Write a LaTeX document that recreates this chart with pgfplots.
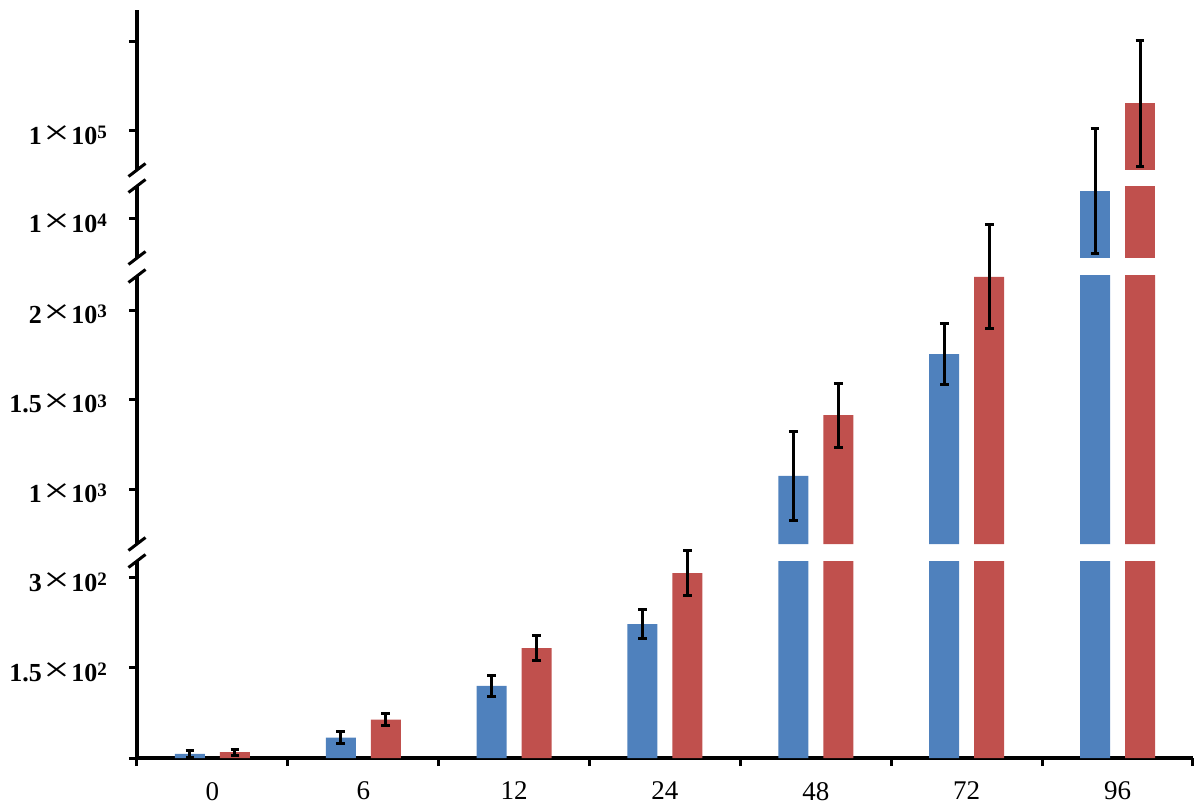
\documentclass[border=0pt]{standalone}
\usepackage{fontspec}
\setmainfont{Liberation Serif}
\usepackage{graphicx}
\usepackage{pgfplots}
\pgfplotsset{compat=1.18}
\usepackage{pgfplotstable}
\definecolor{cb}{HTML}{4F81BD}
\definecolor{cr}{HTML}{C0504D}
\newcommand{\lab}[2]{\textbf{#1}\kern0.8pt\scalebox{1.8}[1.35]{×}\kern0.8pt\textbf{10}\raisebox{2.7pt}{\fontsize{9.5}{9.5}\selectfont\bfseries #2}}

% x: category index (0,6,12,24,48,72,96 h); b/r: blue/red means; be/re: errors
\pgfplotstableread{
x b be r re
0 7 6 10 5
1 34 10 64 10
2 120 17 183 21
3 223 24 308 37
4 1073 251 1413 179
5 1754 170 2185 290
6 11550 3450 115500 35000
}\data

\tikzset{sl/.style={line width=1.5pt}}
\pgfplotsset{
  base/.style={
    scale only axis, width=528pt, xmin=-0.5, xmax=6.5,
    ybar, bar width=15pt, anchor=south west,
    tick align=outside, major tick length=4pt, minor tick length=4pt,
    tick style={black, line width=1.5pt},
    axis line style={-, black, line width=1.6pt},
    scaled y ticks=false,
    yticklabel style={font=\fontsize{13}{15}\selectfont, xshift=-7.5pt, yshift=-2pt},
    xticklabel style={font=\fontsize{13.5}{16}\selectfont, yshift=-4.5pt},
  },
  barseg/.style={base, axis y line*=left, axis x line=none, xtick=\empty},
  ovl/.style={base, clip=false, axis lines=none, xtick=\empty, ytick=\empty},
  eb/.style={draw=none, fill=none,
    error bars/y dir=both, error bars/y explicit,
    error bars/error bar style={draw=black, line width=1.5pt},
    error bars/error mark options={draw=black, rotate=90, mark size=2.2pt, line width=1.5pt}},
}

\begin{document}
\begin{tikzpicture}
\useasboundingbox (0,0) rectangle (600pt,402.5pt);

% ---------- segment 1 : 0 .. 328 ----------
\begin{axis}[base, at={(68.5pt,23.5pt)}, height=98.5pt, ymin=0, ymax=328.3,
  axis x line*=bottom, axis y line*=left,
  xtick={0,...,6}, xticklabels={0,6,12,24,48,72,96},
  minor xtick={-0.5,0.5,...,6.5}, major x tick style={draw=none},
  ytick={0,150,300}, yticklabels={,\lab{1.5}{2},\lab{3}{2}}]
\addplot[fill=cb, draw=none, bar shift=-11.25pt, restrict y to domain*=0:400] table[x=x,y=b]{\data};
\addplot[fill=cr, draw=none, bar shift=11.25pt, restrict y to domain*=0:400] table[x=x,y=r]{\data};
\end{axis}
\begin{axis}[ovl, at={(68.5pt,23.5pt)}, height=98.5pt, ymin=0, ymax=328.3]
\addplot[eb, bar shift=-11.25pt, restrict y to domain=0:328.3] table[x=x,y=b,y error=be]{\data};
\addplot[eb, bar shift=11.25pt, restrict y to domain=0:328.3] table[x=x,y=r,y error=re]{\data};
\draw[sl] (rel axis cs:0,1) ++(-4.25pt,-3.25pt) -- ++(8.5pt,6.5pt);
\end{axis}

% ---------- segment 2 : 693 .. 2190 ----------
\begin{axis}[barseg, at={(68.5pt,130.5pt)}, height=134pt, ymin=693, ymax=2190,
  ytick={1000,1500,2000}, yticklabels={\lab{1}{3},\lab{1.5}{3},\lab{2}{3}}]
\addplot[fill=cb, draw=none, bar shift=-11.25pt, y filter/.expression={y<693 ? nan : min(y,2500)}] table[x=x,y=b]{\data};
\addplot[fill=cr, draw=none, bar shift=11.25pt, y filter/.expression={y<693 ? nan : min(y,2500)}] table[x=x,y=r]{\data};
\end{axis}
\begin{axis}[ovl, at={(68.5pt,130.5pt)}, height=134pt, ymin=693, ymax=2190]
\addplot[eb, bar shift=-11.25pt, restrict y to domain=693:2190] table[x=x,y=b,y error=be]{\data};
\addplot[eb, bar shift=11.25pt, restrict y to domain=693:2190] table[x=x,y=r,y error=re]{\data};
\draw[sl] (rel axis cs:0,0) ++(-4.25pt,-3.25pt) -- ++(8.5pt,6.5pt);
\draw[sl] (rel axis cs:0,1) ++(-4.25pt,-3.25pt) -- ++(8.5pt,6.5pt);
\end{axis}

% ---------- segment 3 : 7833 .. 11833 ----------
\begin{axis}[barseg, at={(68.5pt,273.5pt)}, height=36pt, ymin=7833, ymax=11833,
  ytick={10000}, yticklabels={\lab{1}{4}}]
\addplot[fill=cb, draw=none, bar shift=-11.25pt, y filter/.expression={y<7833 ? nan : min(y,13000)}] table[x=x,y=b]{\data};
\addplot[fill=cr, draw=none, bar shift=11.25pt, y filter/.expression={y<7833 ? nan : min(y,13000)}] table[x=x,y=r]{\data};
\end{axis}
\begin{axis}[ovl, at={(68.5pt,273.5pt)}, height=36pt, ymin=7833, ymax=11833]
\addplot[eb, bar shift=-11.25pt, restrict y to domain=7833:11833] table[x=x,y=b,y error=be]{\data};
\draw[sl] (rel axis cs:0,0) ++(-4.25pt,-3.25pt) -- ++(8.5pt,6.5pt);
\draw[sl] (rel axis cs:0,1) ++(-4.25pt,-3.25pt) -- ++(8.5pt,6.5pt);
\end{axis}

% ---------- segment 4 : 78333 .. 167222 ----------
\begin{axis}[barseg, at={(68.5pt,317.5pt)}, height=80pt, ymin=78333, ymax=167222,
  ytick={100000,150000}, yticklabels={\lab{1}{5},}]
\addplot[fill=cr, draw=none, bar shift=11.25pt, y filter/.expression={y<78333 ? nan : min(y,170000)}] table[x=x,y=r]{\data};
\end{axis}
\begin{axis}[ovl, at={(68.5pt,317.5pt)}, height=80pt, ymin=78333, ymax=167222]
\addplot[eb, bar shift=11.25pt, restrict y to domain=78333:167222] table[x=x,y=r,y error=re]{\data};
\draw[sl] (rel axis cs:0,0) ++(-4.25pt,-3.25pt) -- ++(8.5pt,6.5pt);
\end{axis}
\end{tikzpicture}
\end{document}
